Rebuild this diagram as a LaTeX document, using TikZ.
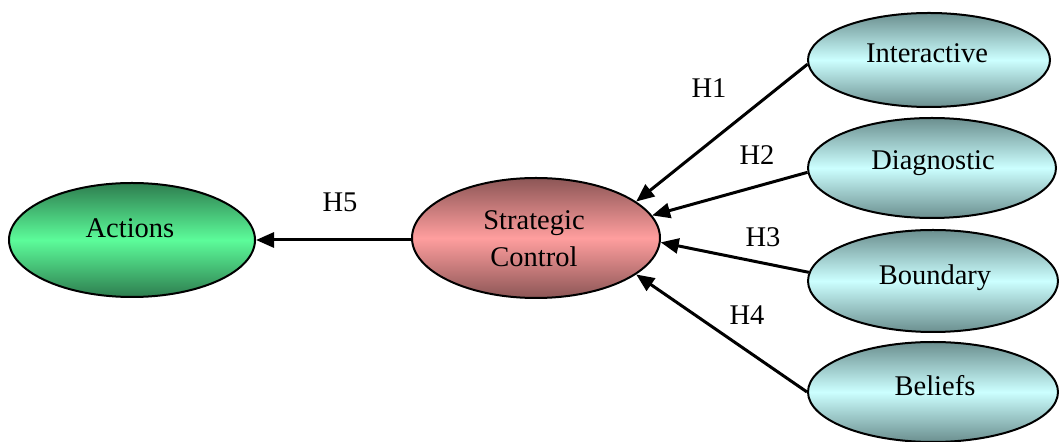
\documentclass[tikz,border=0pt]{standalone}
\usepackage{fontspec}
\setmainfont{Liberation Serif}
\usetikzlibrary{shapes.geometric,arrows.meta}
\definecolor{gdark}{RGB}{46,125,79}
\definecolor{glight}{RGB}{92,252,154}
\definecolor{rdark}{RGB}{140,86,86}
\definecolor{rlight}{RGB}{255,158,158}
\definecolor{cdark}{RGB}{107,143,143}
\definecolor{clight}{RGB}{204,255,255}
\tikzset{
  oval/.style={ellipse, draw=black, line width=1pt, inner sep=0pt},
  greenoval/.style={oval, top color=gdark, bottom color=gdark, middle color=glight},
  redoval/.style={oval, top color=rdark, bottom color=rdark, middle color=rlight},
  cyanoval/.style={oval, top color=cdark, bottom color=cdark, middle color=clight},
  txt/.style={anchor=base, inner sep=0pt, font=\fontsize{14.25pt}{17pt}\selectfont},
  arr/.style={-{Triangle[length=9pt,width=7.5pt]}, line width=1.5pt}
}
\begin{document}
\begin{tikzpicture}[x=0.5pt,y=-0.5pt]
\useasboundingbox (0,0) rectangle (1059,442);
\node[greenoval, minimum width=123pt, minimum height=57pt] (act) at (132,240) {};
\node[redoval, minimum width=124pt, minimum height=60pt] (sc) at (536,238) {};
\node[cyanoval, minimum width=121pt, minimum height=47pt] (inter) at (929,60) {};
\node[cyanoval, minimum width=124pt, minimum height=50pt] (diag) at (932,168) {};
\node[cyanoval, minimum width=125pt, minimum height=51pt] (bound) at (933,281) {};
\node[cyanoval, minimum width=125pt, minimum height=50pt] (bel) at (933,392) {};
\node[txt] (tact) at (130,238) {Actions};
\node[txt] (tsc1) at (534,230) {Strategic};
\node[txt] (tsc2) at (534,267) {Control};
\node[txt] (tinter) at (927,63) {Interactive};
\node[txt] (tdiag) at (933,170) {Diagnostic};
\node[txt] (tbound) at (935,285) {Boundary};
\node[txt] (tbel) at (935,396) {Beliefs};
\draw[arr] (sc.west |- act.east) -- (act.east);
\draw[arr] (inter.182) -- (sc.20);
\draw[arr] (diag.182) -- (sc.11);
\draw[arr] (bound.176) -- (sc.-2);
\draw[arr] (bel.180) -- (sc.-20);
\node[txt] (h1) at (709,98) {H1};
\node[txt] (h2) at (757,165) {H2};
\node[txt] (h3) at (763,247) {H3};
\node[txt] (h4) at (747,325) {H4};
\node[txt] (h5) at (340,212) {H5};
\end{tikzpicture}
\end{document}
